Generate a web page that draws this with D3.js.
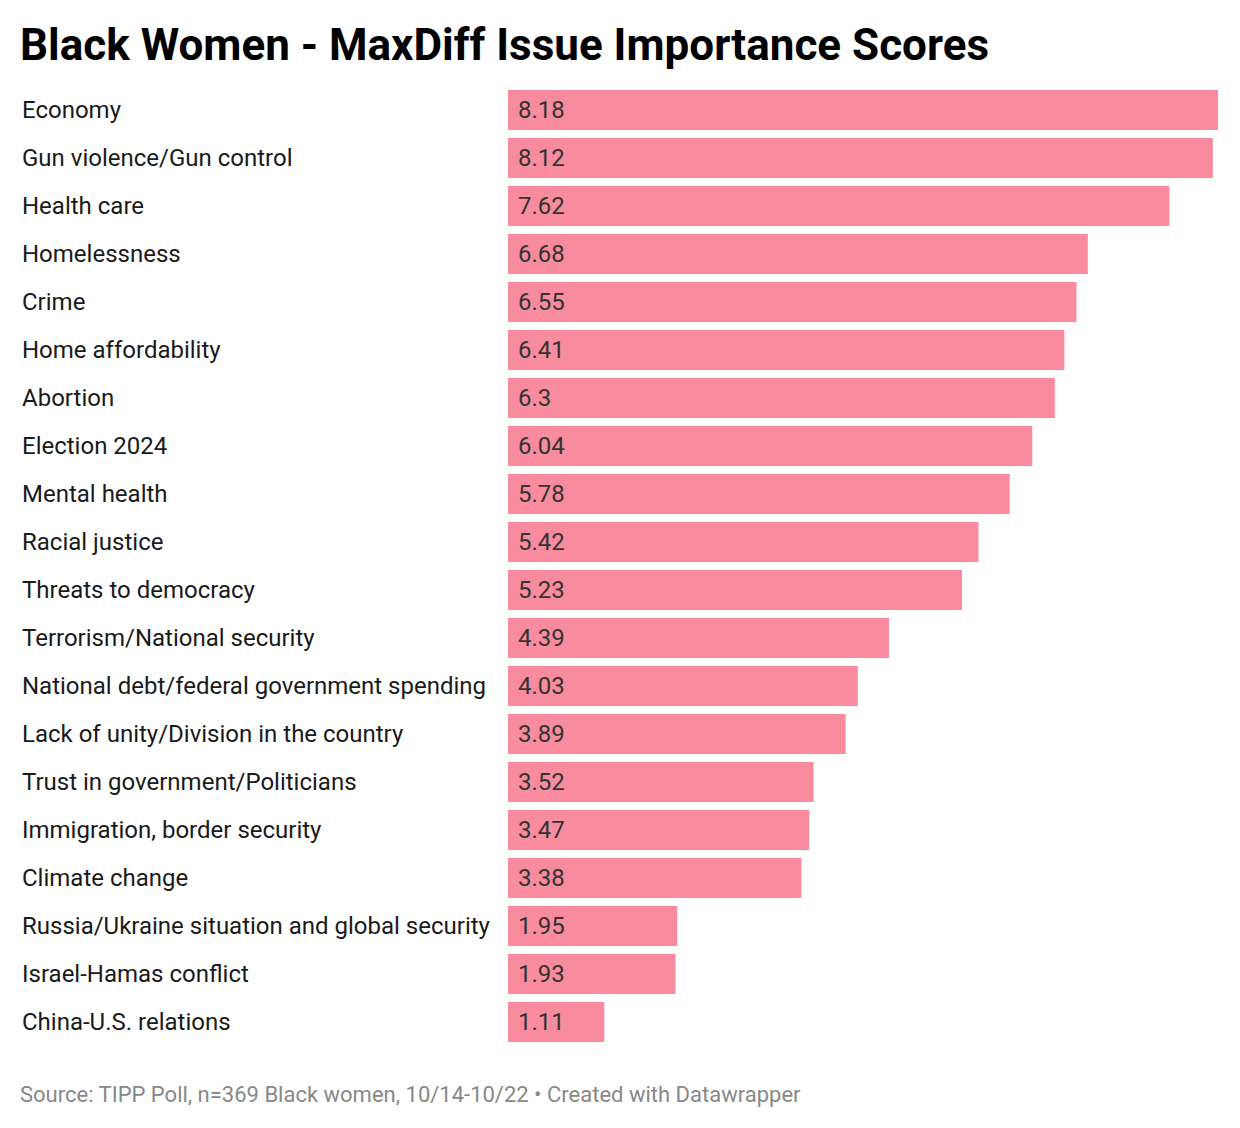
<!DOCTYPE html>
<html>
<head>
<meta charset="utf-8">
<script src="https://cdn.jsdelivr.net/npm/d3@7"></script>
<style>
  body { margin: 0; background: #fff; font-family: Roboto, sans-serif; }
</style>
</head>
<body>
<div id="chart"></div>
<script>
const issues = ["Economy", "Gun violence/Gun control", "Health care", "Homelessness", "Crime",
  "Home affordability", "Abortion", "Election 2024", "Mental health", "Racial justice",
  "Threats to democracy", "Terrorism/National security", "National debt/federal government spending",
  "Lack of unity/Division in the country", "Trust in government/Politicians",
  "Immigration, border security", "Climate change", "Russia/Ukraine situation and global security",
  "Israel-Hamas conflict", "China-U.S. relations"];
const scores = [8.18, 8.12, 7.62, 6.68, 6.55, 6.41, 6.3, 6.04, 5.78, 5.42, 5.23, 4.39, 4.03,
  3.89, 3.52, 3.47, 3.38, 1.95, 1.93, 1.11];
const valueLabels = ["8.18", "8.12", "7.62", "6.68", "6.55", "6.41", "6.3", "6.04", "5.78", "5.42",
  "5.23", "4.39", "4.03", "3.89", "3.52", "3.47", "3.38", "1.95", "1.93", "1.11"];

const width = 1240, height = 1128;
const barLeft = 508, barRight = 1218;
const barsTop = 90, rowStep = 48, gap = 8;

const data = issues.map((d, i) => ({ issue: d, score: scores[i], label: valueLabels[i] }));

const svg = d3.select("#chart").append("svg")
  .attr("width", width)
  .attr("height", height);

svg.append("text")
  .attr("x", 20)
  .attr("y", 60)
  .attr("font-size", "44px")
  .attr("font-weight", "bold")
  .attr("fill", "#000")
  .text("Black Women - MaxDiff Issue Importance Scores");

const x = d3.scaleLinear().domain([0, d3.max(scores)]).range([barLeft, barRight]);
const y = d3.scaleBand().domain(issues)
  .range([barsTop, barsTop + rowStep * issues.length - gap])
  .paddingInner(gap / rowStep).paddingOuter(0);

const rows = svg.selectAll(".row")
  .data(data)
  .enter().append("g")
  .attr("class", "row");

rows.append("rect")
  .attr("x", x(0))
  .attr("y", d => y(d.issue))
  .attr("width", d => x(d.score) - x(0))
  .attr("height", y.bandwidth())
  .attr("fill", "#f88b9e");

rows.append("text")
  .attr("x", 22)
  .attr("y", d => y(d.issue) + y.bandwidth() / 2)
  .attr("dy", "0.35em")
  .attr("font-size", "24px")
  .attr("fill", "#1a1a1a")
  .text(d => d.issue);

rows.append("text")
  .attr("x", x(0) + 10)
  .attr("y", d => y(d.issue) + y.bandwidth() / 2)
  .attr("dy", "0.35em")
  .attr("font-size", "24px")
  .attr("fill", "#333")
  .text(d => d.label);

svg.append("text")
  .attr("x", 20)
  .attr("y", 1102)
  .attr("font-size", "22px")
  .attr("fill", "#888")
  .text("Source: TIPP Poll, n=369 Black women, 10/14-10/22 • Created with Datawrapper");
</script>
</body>
</html>
